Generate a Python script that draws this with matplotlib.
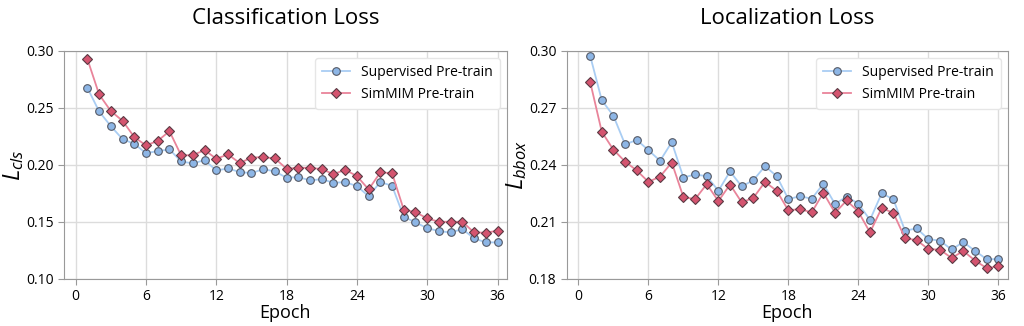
import matplotlib
matplotlib.use('Agg')
from matplotlib import pyplot as plt

plt.rcParams['font.family'] = ['Open Sans', 'DejaVu Sans']
plt.rcParams['mathtext.fontset'] = 'custom'
plt.rcParams['mathtext.it'] = 'Open Sans:italic'
plt.rcParams['mathtext.rm'] = 'Open Sans'

epocas = list(range(1, 37))

# perda de classificação
cls_sup = [0.2675, 0.2468, 0.2339, 0.2225, 0.2184, 0.2102, 0.2120, 0.2135, 0.2029,
           0.2012, 0.2041, 0.1950, 0.1968, 0.1936, 0.1927, 0.1962, 0.1942, 0.1886,
           0.1892, 0.1863, 0.1874, 0.1842, 0.1848, 0.1813, 0.1725, 0.1848, 0.1816,
           0.1544, 0.1494, 0.1444, 0.1418, 0.1406, 0.1436, 0.1354, 0.1319, 0.1319]
cls_sim = [0.2927, 0.2617, 0.2471, 0.2386, 0.2243, 0.2170, 0.2210, 0.2295, 0.2082,
           0.2085, 0.2129, 0.2053, 0.2091, 0.2015, 0.2064, 0.2067, 0.2056, 0.1965,
           0.1974, 0.1974, 0.1962, 0.1918, 0.1956, 0.1901, 0.1784, 0.1933, 0.1927,
           0.1605, 0.1585, 0.1529, 0.1500, 0.1500, 0.1500, 0.1406, 0.1404, 0.1421]

# perda de localização
loc_sup = [0.2975, 0.2740, 0.2658, 0.2507, 0.2531, 0.2477, 0.2421, 0.2519, 0.2333,
           0.2349, 0.2340, 0.2263, 0.2365, 0.2286, 0.2319, 0.2393, 0.2340, 0.2219,
           0.2235, 0.2221, 0.2300, 0.2193, 0.2233, 0.2195, 0.2110, 0.2249, 0.2219,
           0.2053, 0.2065, 0.2009, 0.2000, 0.1954, 0.1993, 0.1947, 0.1903, 0.1903]
loc_sim = [0.2838, 0.2574, 0.2479, 0.2417, 0.2370, 0.2310, 0.2338, 0.2412, 0.2230,
           0.2219, 0.2298, 0.2209, 0.2296, 0.2202, 0.2226, 0.2310, 0.2263, 0.2160,
           0.2167, 0.2149, 0.2253, 0.2147, 0.2212, 0.2153, 0.2044, 0.2172, 0.2147,
           0.2014, 0.2003, 0.1956, 0.1953, 0.1909, 0.1946, 0.1896, 0.1856, 0.1865]

rotulos = ['Supervised Pre-train', 'SimMIM Pre-train']
xticks = [0, 6, 12, 18, 24, 30, 36]


def painel(ax, sup, sim, titulo, ylabel, yticks):
    ax.plot(epocas, sup, '-o', color='#a9cdf3', lw=1.3, ms=5.5,
            mfc='#8db6e6', mec='#555a66', mew=0.8, label=rotulos[0], zorder=3)
    ax.plot(epocas, sim, '-D', color='#e9849a', lw=1.3, ms=5.5,
            mfc='#d4546f', mec='#5a3a44', mew=0.8, label=rotulos[1], zorder=4)
    ax.set_xlim(-1, 36.8)
    ax.set_ylim(yticks[0], yticks[-1])
    ax.set_xticks(xticks)
    ax.set_yticks(yticks)
    ax.set_yticklabels([f'{v:.2f}' for v in yticks])
    ax.grid(True, color='#dcdcdc', lw=1)
    ax.set_axisbelow(True)
    for s in ax.spines.values():
        s.set_color('#999999')
    ax.tick_params(labelsize=10, color='#999999', length=4)
    ax.set_title(titulo, fontsize=16, pad=19)
    ax.set_xlabel('Epoch', fontsize=13, labelpad=0)
    ax.set_ylabel(ylabel, fontsize=17, labelpad=0)
    ax.legend(loc='upper right', fontsize=10, framealpha=1,
              edgecolor='#e6e6e6', borderpad=0.5, handlelength=2.0)


fig = plt.figure(figsize=(10.24, 3.26), dpi=100)
ax1 = fig.add_axes([0.0625, 0.145, 0.4325, 0.699])
ax2 = fig.add_axes([0.5535, 0.145, 0.4305, 0.699])

painel(ax1, cls_sup, cls_sim, 'Classification Loss', r'$L_{cls}$',
       [0.10, 0.15, 0.20, 0.25, 0.30])
painel(ax2, loc_sup, loc_sim, 'Localization Loss', r'$L_{bbox}$',
       [0.18, 0.21, 0.24, 0.27, 0.30])

fig.savefig('out.png', dpi=100)
